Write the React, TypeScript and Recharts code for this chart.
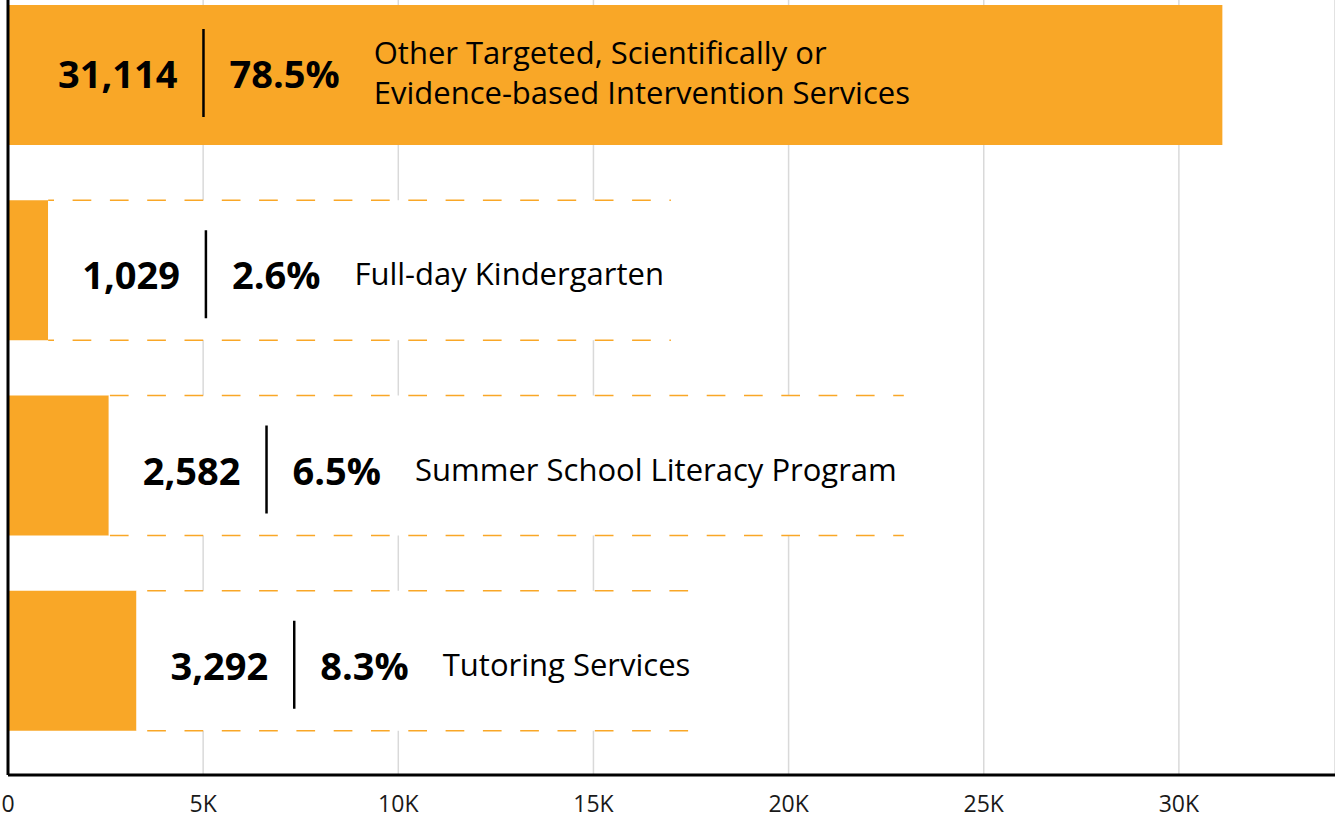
import React from 'react';
import { BarChart, Bar, XAxis, YAxis, CartesianGrid, LabelList, ReferenceLine } from 'recharts';

const categories = [
  'Other Targeted, Scientifically or Evidence-based Intervention Services',
  'Full-day Kindergarten',
  'Summer School Literacy Program',
  'Tutoring Services',
];
const nameLines = [
  ['Other Targeted, Scientifically or', 'Evidence-based Intervention Services'],
  ['Full-day Kindergarten'],
  ['Summer School Literacy Program'],
  ['Tutoring Services'],
];
const counts = [31114, 1029, 2582, 3292];
const shares = [78.5, 2.6, 6.5, 8.3];
const xTicks = [0, 5000, 10000, 15000, 20000, 25000, 30000];

const data = categories.map((name, i) => ({ name, value: counts[i] }));

const ORANGE = '#F9A727';
const FONT = "'Open Sans', sans-serif";
const BOLD = `700 38px ${FONT}`;
const REG = `400 31px ${FONT}`;

let ctx: CanvasRenderingContext2D | null = null;
const measure = (text: string, font: string) => {
  if (!ctx) ctx = document.createElement('canvas').getContext('2d');
  if (!ctx) return text.length * 18;
  ctx.font = font;
  return ctx.measureText(text).width;
};

const fmtCount = (v: number) => v.toLocaleString('en-US');
const fmtTick = (v: number) => (v === 0 ? '0' : `${v / 1000}K`);

const XTick = (props: any) => {
  const { x, payload } = props;
  return (
    <text x={x} y={803} textAnchor="middle" dominantBaseline="central"
      style={{ font: `400 23px ${FONT}` }} fill="#1a1a1a">
      {fmtTick(payload.value)}
    </text>
  );
};

const RowLabel = (props: any) => {
  const vb = props.viewBox || props;
  const { x, y, width, height } = vb;
  let i = props.index;
  if (i == null) i = counts.indexOf(Number(props.value));
  const inside = counts[i] > 20000;
  const barEnd = x + width;
  const valueText = fmtCount(counts[i]);
  const pctText = `${shares[i]}%`;
  const lines = nameLines[i];

  const valueStart = inside ? x + 50 : barEnd + 34;
  const divider = valueStart + measure(valueText, BOLD) + 26;
  const pctStart = divider + 26;
  const nameStart = pctStart + measure(pctText, BOLD) + 34;
  const nameW = Math.max(...lines.map((l) => measure(l, REG)));
  const boxEnd = nameStart + nameW + 7;
  const cy = inside ? y + height / 2 - 2 : y + height / 2 + 4;

  return (
    <g>
      {!inside && (
        <g>
          <rect x={barEnd} y={y} width={boxEnd - barEnd} height={height} fill="#fff" />
          {[y, y + height].map((ly) => (
            <line
              key={ly}
              x1={barEnd}
              x2={boxEnd}
              y1={ly}
              y2={ly}
              stroke={ORANGE}
              strokeWidth={1.6}
              strokeDasharray="18.7 18.6"
              strokeDashoffset={barEnd + 2}
            />
          ))}
        </g>
      )}
      <text x={divider - 26} y={cy} textAnchor="end" dominantBaseline="central"
        style={{ font: BOLD }} fill="#000">
        {valueText}
      </text>
      <line x1={divider} x2={divider} y1={cy - 44} y2={cy + 44} stroke="#000" strokeWidth={2.5} />
      <text x={pctStart} y={cy} dominantBaseline="central" style={{ font: BOLD }} fill="#000">
        {pctText}
      </text>
      {lines.map((l, k) => (
        <text key={k} x={nameStart} y={cy + (k - (lines.length - 1) / 2) * 40 - 1}
          dominantBaseline="central" style={{ font: REG }} fill="#000">
          {l}
        </text>
      ))}
    </g>
  );
};

export default function App() {
  return (
    <div style={{ position: 'absolute', left: 0, top: 0, width: 1335, height: 818, background: '#fff' }}>
      <BarChart
        width={1335}
        height={818}
        data={data}
        layout="vertical"
        margin={{ top: 0, right: 0, bottom: 0, left: 8 }}
      >
        <CartesianGrid horizontal={false} stroke="#d9d9d9" strokeWidth={1.5} />
        <XAxis
          type="number"
          domain={[0, 34000]}
          ticks={xTicks}
          allowDataOverflow
          height={43}
          tickLine={false}
          tickSize={0}
          axisLine={{ stroke: '#000', strokeWidth: 3 }}
          tick={<XTick />}
        />
        <YAxis
          type="category"
          dataKey="name"
          width={0}
          tick={false}
          tickLine={false}
          padding={{ top: -23, bottom: 17 }}
          axisLine={false}
        />
        <Bar dataKey="value" fill={ORANGE} barSize={140} isAnimationActive={false}>
          <LabelList dataKey="value" content={RowLabel} />
        </Bar>
        <ReferenceLine x={0} stroke="#000" strokeWidth={3} />
      </BarChart>
    </div>
  );
}
